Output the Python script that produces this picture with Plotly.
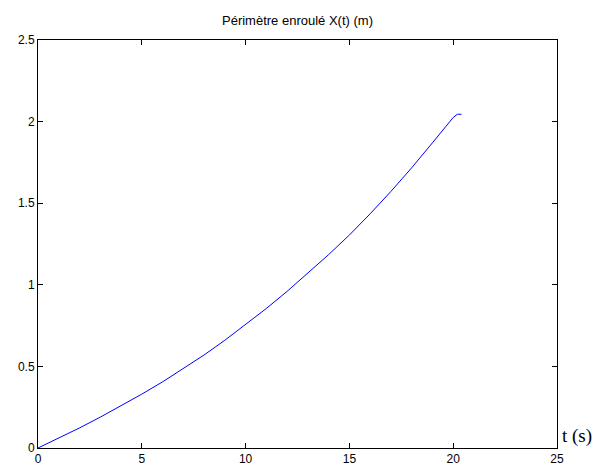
import plotly.graph_objects as go

t_s = [0, 1, 2, 3, 4, 5, 6, 7, 8, 9, 10, 11, 12, 13, 14, 15, 16, 17, 18, 19, 20, 20.2, 20.4]
x_m = [0, 0.06, 0.123, 0.189, 0.258, 0.33, 0.405, 0.485, 0.57, 0.66, 0.755,
       0.855, 0.96, 1.07, 1.185, 1.305, 1.435, 1.572, 1.717, 1.87, 2.025, 2.045, 2.045]
x_ticks = [0, 5, 10, 15, 20, 25]
y_ticks = [0, 0.5, 1, 1.5, 2, 2.5]

fig = go.Figure()
fig.add_trace(go.Scatter(x=t_s, y=x_m, mode='lines', line=dict(color='#0000ff', width=1),
                         showlegend=False, hoverinfo='skip'))

axis_common = dict(showgrid=False, zeroline=False, showline=True, linecolor='black', linewidth=1,
                   mirror='ticks', ticks='inside', ticklen=5, tickcolor='black', automargin=False,
                   tickfont=dict(family='Liberation Sans, Arial', size=12, color='black'))
fig.update_xaxes(range=[0, 25], tickvals=x_ticks, ticktext=[str(v) for v in x_ticks], **axis_common)
fig.update_yaxes(range=[0, 2.5], tickvals=y_ticks, ticktext=['0', '0.5', '1', '1.5', '2', '2.5'], **axis_common)

fig.update_layout(
    width=595, height=469,
    margin=dict(l=38, r=38, t=40, b=21),
    plot_bgcolor='white', paper_bgcolor='white',
    title=dict(text='Périmètre enroulé X(t) (m)', x=0.5, xref='paper', y=1, yref='container', yanchor='top', pad=dict(t=16),
               font=dict(family='Liberation Sans, Arial', size=13, color='black')),
    annotations=[dict(text='t (s)', xref='paper', yref='paper', x=1, y=0, xanchor='left', yanchor='bottom',
                      xshift=3, yshift=-1, showarrow=False,
                      font=dict(family='Liberation Serif, Times New Roman', size=19, color='black'))],
)
# page has a default 8px body margin, drop it so the figure sits at 0,0
fig.write_html("out.html", config={'displayModeBar': False},
               post_script="document.body.style.margin='0';document.body.style.overflow='hidden';")
